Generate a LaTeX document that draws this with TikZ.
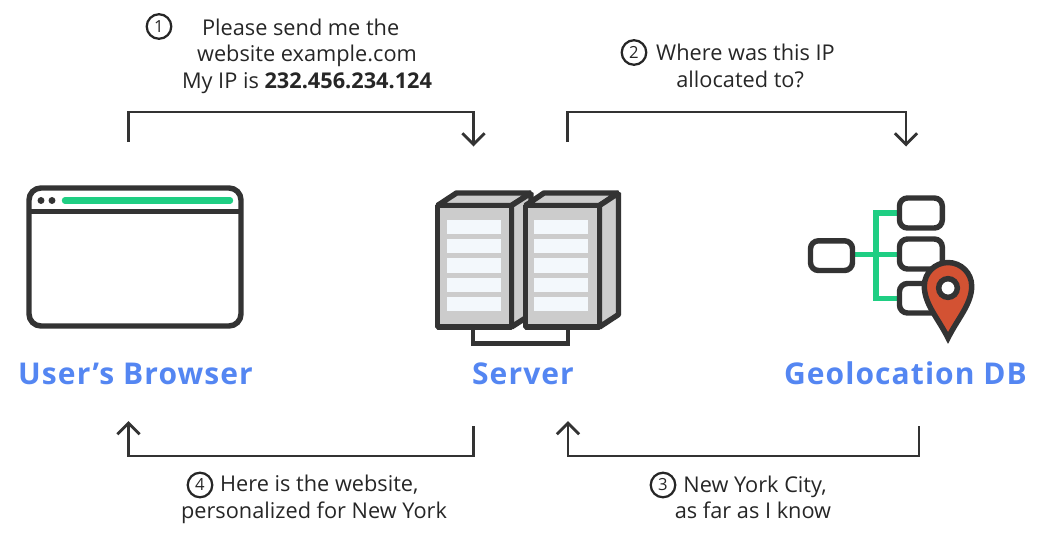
\documentclass[tikz,border=0pt]{standalone}
\usepackage{fontspec}
\setmainfont{Open Sans}
\newfontfamily\titlefont[LetterSpace=3.6]{Open Sans}
\usetikzlibrary{arrows.meta}
\definecolor{ink}{HTML}{333333}
\definecolor{textink}{HTML}{262626}
\definecolor{bluetitle}{HTML}{5486F2}
\definecolor{greenline}{HTML}{1FCE83}
\definecolor{pinred}{HTML}{D35233}
\definecolor{slat}{HTML}{F3F8FC}
\definecolor{rack}{HTML}{CCCCCC}
\tikzset{
  x=0.75pt,y=-0.75pt,
  conn/.style={draw=ink,line width=2.15pt,-{Straight Barb[length=8.4pt,width=16.6pt,line width=2.15pt]}},
  icon/.style={draw=ink,line width=4.1pt,line join=round},
  rackface/.style={draw=ink,fill=rack,line width=4.1pt,line join=bevel},
  slatbox/.style={fill=slat,draw=none},
  greenwire/.style={draw=greenline,line width=4.2pt},
  dbbox/.style={draw=ink,fill=white,line width=4.1pt,rounded corners=6pt},
  caption/.style={text=textink,align=center,font=\fontsize{16.3pt}{19.9pt}\selectfont,inner sep=0pt},
  numcircle/.style={circle,draw=textink,line width=1.7pt,minimum size=18.4pt,inner sep=0pt,text=textink,font=\fontsize{12.5pt}{12.5pt}\selectfont},
  title/.style={anchor=base,text=bluetitle,font=\fontsize{22.5pt}{26pt}\selectfont\titlefont\bfseries,inner sep=0pt}
}
\begin{document}
\begin{tikzpicture}
\useasboundingbox (0,0) rectangle (1040,544);
% connector ends
\coordinate (c1a) at (128.5,142); \coordinate (c1b) at (128.5,112); \coordinate (c1c) at (473.5,112); \coordinate (c1d) at (473.5,146.5);
\coordinate (c2a) at (567.5,142); \coordinate (c2b) at (567.5,112); \coordinate (c2c) at (906,112); \coordinate (c2d) at (906,146.5);
\coordinate (c3a) at (919,426); \coordinate (c3b) at (919,456); \coordinate (c3c) at (568,456); \coordinate (c3d) at (568,421);
\coordinate (c4a) at (473.5,426); \coordinate (c4b) at (473.5,456); \coordinate (c4c) at (128.5,456); \coordinate (c4d) at (128.5,421);
\draw[conn] (c1a) -- (c1b) -- (c1c) -- (c1d);
\draw[conn] (c2a) -- (c2b) -- (c2c) -- (c2d);
\draw[conn] (c3a) -- (c3b) -- (c3c) -- (c3d);
\draw[conn] (c4a) -- (c4b) -- (c4c) -- (c4d);
% browser
\draw[icon,rounded corners=9pt] (29,188) rectangle (241,326);
\draw[icon] (29,211.5) -- (241,211.5);
\fill[ink] (41,200.5) circle[radius=2.6pt];
\fill[ink] (52,200.5) circle[radius=2.6pt];
\draw[draw=greenline,line width=4.8pt,line cap=round] (65,200.5) -- (230,200.5);
% server
\draw[draw=ink,line width=3.4pt] (473,329) -- (473,343.5) -- (568,343.5) -- (568,329);
\draw[rackface] (437.5,205.5) -- (456.5,193) -- (531,193) -- (511.5,205.5) -- cycle;
\draw[rackface] (511.5,205.5) -- (531,193) -- (531,314.5) -- (511.5,327) -- cycle;
\draw[rackface] (437.5,205.5) rectangle (511.5,327);
\foreach \ya/\yb in {220/234,239/253,258.3/272.5,277.7/291.7,296.7/311}
  \fill[slatbox] (446.7,\ya) rectangle (500.7,\yb);
\draw[rackface] (525.5,205.5) -- (544,193) -- (618.5,193) -- (599.5,205.5) -- cycle;
\draw[rackface] (599.5,205.5) -- (618.5,193) -- (618.5,314.5) -- (599.5,327) -- cycle;
\draw[rackface] (525.5,205.5) rectangle (599.5,327);
\foreach \ya/\yb in {220/234,239/253,258.3/272.5,277.7/291.7,296.7/311}
  \fill[slatbox] (534,\ya) rectangle (588,\yb);
% geolocation db
\draw[greenwire] (852,254.3) -- (900,254.3);
\draw[greenwire,line join=miter] (900,213) -- (876,213) -- (876,298.3) -- (900,298.3);
\draw[dbbox] (810.5,240.8) rectangle (852.5,270.5);
\draw[dbbox] (899.5,198) rectangle (942.3,228);
\draw[dbbox] (899.5,239) rectangle (942.3,269);
\draw[dbbox] (899.5,283.5) rectangle (942.3,313);
\draw[draw=ink,fill=pinred,line width=4.1pt,line join=miter,miter limit=10]
  (948,338) .. controls (938,318) and (924.3,304) .. (924.3,286)
  .. controls (924.3,273) and (935,262.5) .. (948,262.5)
  .. controls (961,262.5) and (971.7,273) .. (971.7,286)
  .. controls (971.7,304) and (958,318) .. (948,338) -- cycle;
\draw[draw=ink,fill=white,line width=4.1pt] (948,288) circle[radius=7pt];
% titles
\node[title] (tbrowser) at (135.5,384) {User’s Browser};
\node[title] (tserver) at (523,384) {Server};
\node[title] (tgeo) at (905.5,384) {Geolocation DB};
% captions
\node[numcircle] (n1) at (159,26.5) {1};
\node[caption] (cap1) at (307,56) {Please send me the\hspace*{9.5pt}\\website example.com\hspace*{7.5pt}\\My IP is \textbf{232.456.234.124}};
\node[numcircle] (n2) at (634,52.5) {2};
\node[caption] (cap2) at (745.5,66) {Where was this IP\\allocated to?\hspace*{8pt}};
\node[numcircle] (n3) at (663,485) {3};
\node[caption] (cap3) at (755,497.5) {New York City,\\as far as I know\hspace*{3pt}};
\node[numcircle] (n4) at (200,485) {4};
\node[caption] (cap4) at (314,499.5) {Here is the website,\hspace*{-8pt}\\personalized for New York};
\end{tikzpicture}
\end{document}
